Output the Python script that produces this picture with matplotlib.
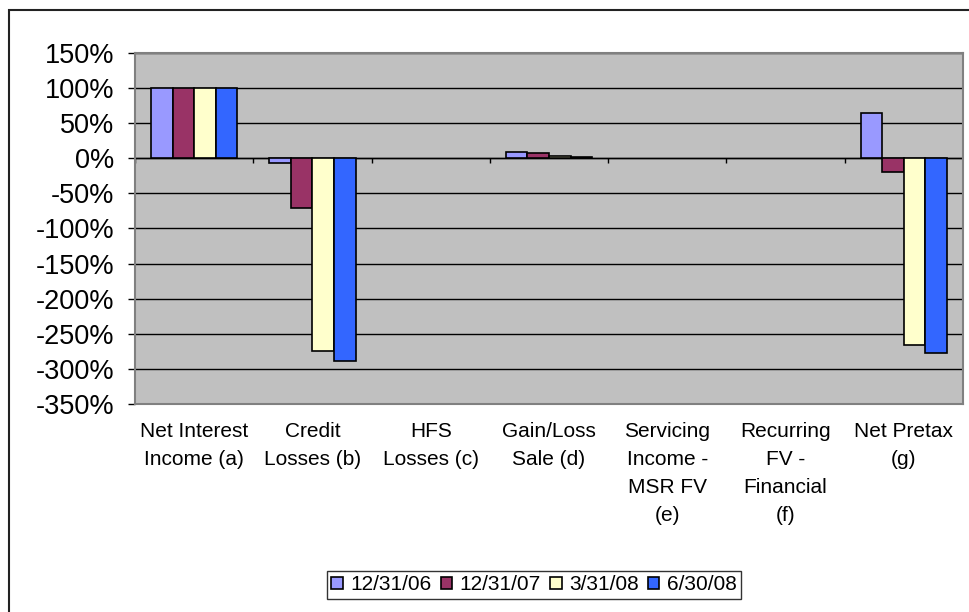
import matplotlib.pyplot as plt
import matplotlib.patches as patches
import numpy as np

plt.rcParams["font.family"] = ["Liberation Sans", "DejaVu Sans"]

# Categories and series values (% of net interest income)
categories = ['Net Interest\nIncome (a)', 'Credit\nLosses (b)', 'HFS\nLosses (c)', 'Gain/Loss\nSale (d)',
              'Servicing\nIncome -\nMSR FV\n(e)', 'Recurring\nFV -\nFinancial\n(f)', 'Net Pretax\n(g)']
periods = ['12/31/06', '12/31/07', '3/31/08', '6/30/08']
s_123106 = [100, -6, 0, 9, 0, 0, 65]
s_123107 = [100, -71, 0, 7, 0, 0, -20]
s_033108 = [100, -274, 0, 3, 0, 0, -266]
s_063008 = [100, -289, 0, 2, 0, 0, -278]
yticks = [150, 100, 50, 0, -50, -100, -150, -200, -250, -300, -350]

colors = ['#9999FF', '#993366', '#FFFFCC', '#3366FF']
series = [s_123106, s_123107, s_033108, s_063008]

fig = plt.figure(figsize=(9.69, 6.12), dpi=100)
ax = fig.add_axes([135 / 969, 1 - 404 / 612, 828 / 969, 351 / 612])
ax.set_facecolor('#C0C0C0')

x = np.arange(len(categories))
bw = 0.73 / 4
for i, (vals, col, lab) in enumerate(zip(series, colors, periods)):
    # empty categories get no outline so only the zero line shows
    lw = [1.2 if v != 0 else 0 for v in vals]
    ax.bar(x + (i - 1.5) * bw, vals, width=bw, color=col, edgecolor='black',
           linewidth=lw, label=lab, zorder=3)

# horizontal gridlines and zero axis with category tick marks
ax.set_ylim(-350, 150)
ax.set_xlim(-0.5, len(categories) - 0.5)
ax.set_yticks(yticks)
ax.set_yticklabels([f'{v}%' for v in yticks], fontsize=19.5)
ax.yaxis.grid(True, color='black', linewidth=1.0, zorder=1)
ax.set_axisbelow(True)
ax.axhline(0, color='black', linewidth=1.0, zorder=2)
ax.vlines(np.arange(len(categories) + 1) - 0.5, -6, 0, color='black', linewidth=1.0, zorder=2)

ax.set_xticks(x)
ax.set_xticklabels(categories, fontsize=15, linespacing=1.6)
ax.tick_params(axis='x', length=0, pad=13)
ax.tick_params(axis='y', length=5, width=1, color='black', pad=10)

for s in ax.spines.values():
    s.set_color('#808080')
    s.set_linewidth(1.5)

leg = ax.legend(loc='center', bbox_to_anchor=(534 / 969, 1 - 585 / 612), bbox_transform=fig.transFigure,
                ncol=4, fontsize=15, frameon=True, fancybox=False, handlelength=0.55, handleheight=0.55,
                handletextpad=0.35, columnspacing=0.45, borderpad=0.2, borderaxespad=0)
leg.get_frame().set_edgecolor('black')
leg.get_frame().set_linewidth(1.0)

# outer chart border
fig.patches.append(patches.Rectangle((9 / 969, -0.1), 1.2, 0.1 + 1 - 10 / 612, transform=fig.transFigure,
                                     fill=False, edgecolor='#222222', linewidth=1.5))

fig.savefig('out.png', dpi=100)
